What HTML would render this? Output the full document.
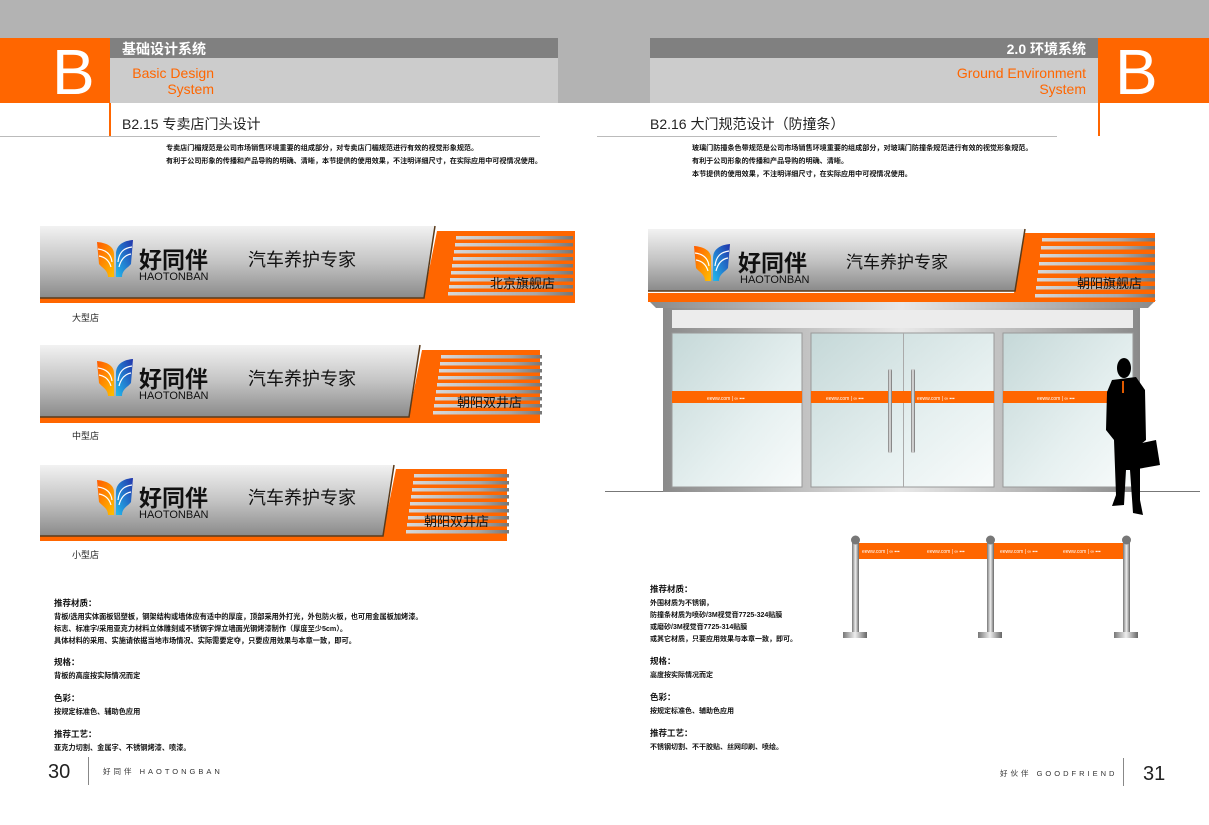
<!DOCTYPE html>
<html><head><meta charset="utf-8"><style>
html,body{margin:0;padding:0;background:#fff;}
body{width:1209px;height:825px;position:relative;overflow:hidden;font-family:"Liberation Sans","Noto Sans CJK SC",sans-serif;}
svg{position:absolute;left:0;top:0;}
.t{font-family:"Liberation Sans","Noto Sans CJK SC",sans-serif;}
</style></head><body>
<svg width="1209" height="825" viewBox="0 0 1209 825" xmlns="http://www.w3.org/2000/svg">
<defs>
<linearGradient id="gp" x1="0" y1="0" x2="0" y2="1"><stop offset="0" stop-color="#f2f2f2"/><stop offset="0.5" stop-color="#c4c4c4"/><stop offset="1" stop-color="#8a8a8a"/></linearGradient>
<linearGradient id="gs" x1="0" y1="0" x2="1" y2="0"><stop offset="0" stop-color="#d8d8d8"/><stop offset="0.7" stop-color="#a8a8a8"/><stop offset="1" stop-color="#777"/></linearGradient>
<linearGradient id="gl" x1="0" y1="0" x2="1" y2="1"><stop offset="0" stop-color="#c5d8d8"/><stop offset="0.6" stop-color="#e6f0f0"/><stop offset="1" stop-color="#f8fbfb"/></linearGradient>
<linearGradient id="gf" x1="0" y1="0" x2="1" y2="0"><stop offset="0" stop-color="#8a8a8a"/><stop offset="0.5" stop-color="#e8e8e8"/><stop offset="1" stop-color="#8a8a8a"/></linearGradient>
<linearGradient id="gpost" x1="0" y1="0" x2="1" y2="0"><stop offset="0" stop-color="#777"/><stop offset="0.5" stop-color="#eee"/><stop offset="1" stop-color="#666"/></linearGradient>
<linearGradient id="lgo" x1="0" y1="0" x2="1" y2="1"><stop offset="0" stop-color="#ff5a00"/><stop offset="1" stop-color="#ffc000"/></linearGradient>
<linearGradient id="lgb" x1="1" y1="0" x2="0" y2="1"><stop offset="0" stop-color="#2233aa"/><stop offset="1" stop-color="#22bbee"/></linearGradient>
<g id="logo">
<path d="M0,2 C12,3 17,8 17,14 L17,37 L11,37 C11,30 5,28 2,24 Z" fill="url(#lgo)"/>
<path d="M36,0 C24,1 19,7 19,14 L19,37 L25,37 C25,30 31,28 34,24 Z" fill="url(#lgb)"/>
<path d="M1,9 C9,10 14,14 15,22" stroke="#fff" stroke-width="1.2" fill="none"/>
<path d="M2,16 C8,17 12,20 14,27" stroke="#fff" stroke-width="1.2" fill="none"/>
<path d="M35,7 C27,8 22,12 21,22" stroke="#fff" stroke-width="1.2" fill="none"/>
<path d="M34,14 C28,15 24,19 22,27" stroke="#fff" stroke-width="1.2" fill="none"/>
</g>
</defs>

<rect x="0" y="0" width="1209" height="38" fill="#b3b3b3"/>
<rect x="558" y="0" width="92" height="103" fill="#b3b3b3"/>
<rect x="0" y="38" width="110" height="65" fill="#ff6600"/>
<rect x="110" y="38" width="448" height="20" fill="#808080"/>
<rect x="110" y="58" width="448" height="45" fill="#cccccc"/>
<rect x="109" y="103" width="2" height="33" fill="#ff6600"/>
<text x="52" y="94" font-size="64" fill="#fff" class="t">B</text>
<text x="122" y="54" font-size="14" font-weight="bold" fill="#fff" class="t">基础设计系统</text>
<text x="214" y="78" font-size="14" fill="#ff6600" text-anchor="end" class="t">Basic Design</text>
<text x="214" y="94" font-size="14" fill="#ff6600" text-anchor="end" class="t">System</text>
<text x="122" y="129" font-size="14" fill="#222" class="t">B2.15 专卖店门头设计</text>
<rect x="0" y="136" width="540" height="1" fill="#bbb"/>
<text x="166" y="150" font-size="7.1" font-weight="bold" fill="#111" class="t">专卖店门楣规范是公司市场销售环境重要的组成部分，对专卖店门楣规范进行有效的视觉形象规范。</text>
<text x="166" y="163" font-size="7.1" font-weight="bold" fill="#111" class="t">有利于公司形象的传播和产品导购的明确、清晰，本节提供的使用效果，不注明详细尺寸，在实际应用中可视情况使用。</text>

<rect x="650" y="38" width="448" height="20" fill="#808080"/>
<rect x="650" y="58" width="448" height="45" fill="#cccccc"/>
<rect x="1098" y="38" width="111" height="65" fill="#ff6600"/>
<rect x="1098" y="103" width="2" height="33" fill="#ff6600"/>
<text x="1115" y="94" font-size="64" fill="#fff" class="t">B</text>
<text x="1086" y="54" font-size="14" font-weight="bold" fill="#fff" text-anchor="end" class="t">2.0 环境系统</text>
<text x="1086" y="78" font-size="14" fill="#ff6600" text-anchor="end" class="t">Ground Environment</text>
<text x="1086" y="94" font-size="14" fill="#ff6600" text-anchor="end" class="t">System</text>
<text x="650" y="129" font-size="14" fill="#222" class="t">B2.16 大门规范设计（防撞条）</text>
<rect x="597" y="136" width="460" height="1" fill="#bbb"/>
<text x="692" y="150" font-size="7.1" font-weight="bold" fill="#111" class="t">玻璃门防撞条色带规范是公司市场销售环境重要的组成部分，对玻璃门防撞条规范进行有效的视觉形象规范。</text>
<text x="692" y="163" font-size="7.1" font-weight="bold" fill="#111" class="t">有利于公司形象的传播和产品导购的明确、清晰。</text>
<text x="692" y="176" font-size="7.1" font-weight="bold" fill="#111" class="t">本节提供的使用效果，不注明详细尺寸，在实际应用中可视情况使用。</text>

<!-- large sign -->
<polygon points="437,231 575,231 575,303 40,303 40,290 425,290" fill="#ff6600"/>
<polygon points="40,226 435,226 424,298 40,298" fill="url(#gp)"/>
<polyline points="435,226 424,298 40,298" fill="none" stroke="#5a3a1a" stroke-width="1.5"/>
<g fill="url(#gs)">
<rect x="456" y="236" width="117" height="3.5"/><rect x="455" y="243" width="118" height="3.5"/><rect x="454" y="250" width="119" height="3.5"/><rect x="453" y="257" width="120" height="3.5"/><rect x="452" y="264" width="121" height="3.5"/><rect x="451" y="271" width="122" height="3.5"/><rect x="450" y="278" width="123" height="3.5"/><rect x="449" y="285" width="124" height="3.5"/><rect x="448" y="292" width="125" height="3.5"/>
</g>
<use href="#logo" x="97" y="240"/>
<text x="139" y="268" font-size="23" font-weight="bold" fill="#111" class="t">好同伴</text>
<text x="139" y="280" font-size="11" fill="#111" class="t">HAOTONBAN</text>
<text x="248" y="266" font-size="18" fill="#111" class="t">汽车养护专家</text>
<text x="490" y="288" font-size="13" fill="#111" class="t">北京旗舰店</text>
<text x="72" y="321" font-size="9" fill="#222" class="t">大型店</text>

<!-- medium sign -->
<polygon points="422,350 540,350 540,423 40,423 40,410 410,410" fill="#ff6600"/>
<polygon points="40,345 420,345 409,417 40,417" fill="url(#gp)"/>
<polyline points="420,345 409,417 40,417" fill="none" stroke="#5a3a1a" stroke-width="1.5"/>
<g fill="url(#gs)">
<rect x="441" y="355" width="101" height="3.5"/><rect x="440" y="362" width="102" height="3.5"/><rect x="439" y="369" width="103" height="3.5"/><rect x="438" y="376" width="104" height="3.5"/><rect x="437" y="383" width="105" height="3.5"/><rect x="436" y="390" width="106" height="3.5"/><rect x="435" y="397" width="107" height="3.5"/><rect x="434" y="404" width="108" height="3.5"/><rect x="433" y="411" width="109" height="3.5"/>
</g>
<use href="#logo" x="97" y="359"/>
<text x="139" y="387" font-size="23" font-weight="bold" fill="#111" class="t">好同伴</text>
<text x="139" y="399" font-size="11" fill="#111" class="t">HAOTONBAN</text>
<text x="248" y="385" font-size="18" fill="#111" class="t">汽车养护专家</text>
<text x="457" y="407" font-size="13" fill="#111" class="t">朝阳双井店</text>
<text x="72" y="439" font-size="9" fill="#222" class="t">中型店</text>

<!-- small sign -->
<polygon points="396,469 507,469 507,541 40,541 40,528 384,528" fill="#ff6600"/>
<polygon points="40,465 394,465 383,536 40,536" fill="url(#gp)"/>
<polyline points="394,465 383,536 40,536" fill="none" stroke="#5a3a1a" stroke-width="1.5"/>
<g fill="url(#gs)">
<rect x="414" y="474" width="95" height="3.5"/><rect x="413" y="481" width="96" height="3.5"/><rect x="412" y="488" width="97" height="3.5"/><rect x="411" y="495" width="98" height="3.5"/><rect x="410" y="502" width="99" height="3.5"/><rect x="409" y="509" width="100" height="3.5"/><rect x="408" y="516" width="101" height="3.5"/><rect x="407" y="523" width="102" height="3.5"/><rect x="406" y="530" width="103" height="3.5"/>
</g>
<use href="#logo" x="97" y="478"/>
<text x="139" y="506" font-size="23" font-weight="bold" fill="#111" class="t">好同伴</text>
<text x="139" y="518" font-size="11" fill="#111" class="t">HAOTONBAN</text>
<text x="248" y="504" font-size="18" fill="#111" class="t">汽车养护专家</text>
<text x="424" y="526" font-size="13" fill="#111" class="t">朝阳双井店</text>
<text x="72" y="558" font-size="9" fill="#222" class="t">小型店</text>

<!-- storefront -->
<rect x="605" y="491" width="595" height="1" fill="#777"/>
<polygon points="648,300 1156,300 1148,308 656,308" fill="url(#gf)"/>
<rect x="663" y="308" width="477" height="184" fill="url(#gf)"/>
<rect x="672" y="310" width="461" height="18" fill="#ececec"/>
<rect x="672" y="333" width="130" height="154" fill="url(#gl)" stroke="#999"/>
<rect x="811" y="333" width="183" height="154" fill="url(#gl)" stroke="#999"/>
<rect x="903" y="333" width="1" height="154" fill="#aaa"/>
<rect x="1003" y="333" width="130" height="154" fill="url(#gl)" stroke="#999"/>
<g fill="#ff6600"><rect x="672" y="391" width="130" height="12"/><rect x="811" y="391" width="183" height="12"/><rect x="1003" y="391" width="130" height="12"/></g>
<g fill="#fff" font-size="5" class="t"><text x="707" y="400">eeww.com | ∞ ▪▪▪</text><text x="826" y="400">eeww.com | ∞ ▪▪▪</text><text x="917" y="400">eeww.com | ∞ ▪▪▪</text><text x="1037" y="400">eeww.com | ∞ ▪▪▪</text></g>
<rect x="888" y="369" width="4" height="84" rx="2" fill="url(#gpost)"/>
<rect x="911" y="369" width="4" height="84" rx="2" fill="url(#gpost)"/>
<polygon points="1025,233 1155,233 1155,302 648,302 648,293 1014,293" fill="#ff6600"/>
<polygon points="648,229 1025,229 1015,291 648,291" fill="url(#gp)"/>
<polyline points="1025,229 1015,291 648,291" fill="none" stroke="#5a3a1a" stroke-width="1.5"/>
<g fill="url(#gs)">
<rect x="1042" y="238" width="113" height="3.5"/><rect x="1041" y="246" width="114" height="3.5"/><rect x="1040" y="254" width="115" height="3.5"/><rect x="1039" y="262" width="116" height="3.5"/><rect x="1038" y="270" width="117" height="3.5"/><rect x="1037" y="278" width="118" height="3.5"/><rect x="1036" y="286" width="119" height="3.5"/><rect x="1035" y="294" width="120" height="3.5"/>
</g>
<use href="#logo" x="694" y="244"/>
<text x="738" y="271" font-size="23" font-weight="bold" fill="#111" class="t">好同伴</text>
<text x="740" y="283" font-size="11" fill="#111" class="t">HAOTONBAN</text>
<text x="846" y="268" font-size="17" fill="#111" class="t">汽车养护专家</text>
<text x="1077" y="288" font-size="13" fill="#111" class="t">朝阳旗舰店</text>
<g fill="#000">
<ellipse cx="1124" cy="368" rx="7" ry="10"/>
<path d="M1112,380 L1136,377 L1145,390 L1146,440 L1140,445 L1140,500 L1143,515 L1133,513 L1130,470 L1126,470 L1124,505 L1112,506 L1116,495 L1114,440 L1106,430 L1107,392 Z"/>
<path d="M1128,446 L1156,440 L1160,465 L1132,470 Z"/>
</g>
<rect x="1122" y="381" width="2" height="12" fill="#e05a00"/>

<!-- stanchions -->
<rect x="856" y="543" width="136" height="16" fill="#ff6600"/>
<rect x="994" y="543" width="132" height="16" fill="#ff6600"/>
<g fill="#fff" font-size="5" class="t"><text x="862" y="553">eeww.com | ∞ ▪▪▪</text><text x="927" y="553">eeww.com | ∞ ▪▪▪</text><text x="1000" y="553">eeww.com | ∞ ▪▪▪</text><text x="1063" y="553">eeww.com | ∞ ▪▪▪</text></g>
<g>
<rect x="852" y="542" width="7" height="93" fill="url(#gpost)"/><circle cx="855.5" cy="540" r="4.5" fill="#777"/><rect x="843" y="632" width="24" height="6" fill="url(#gpost)"/>
<rect x="987" y="542" width="7" height="93" fill="url(#gpost)"/><circle cx="990.5" cy="540" r="4.5" fill="#777"/><rect x="978" y="632" width="24" height="6" fill="url(#gpost)"/>
<rect x="1123" y="542" width="7" height="93" fill="url(#gpost)"/><circle cx="1126.5" cy="540" r="4.5" fill="#777"/><rect x="1114" y="632" width="24" height="6" fill="url(#gpost)"/>
</g>

<g class="t" fill="#111">
<text x="54" y="606" font-size="8.5" font-weight="bold">推荐材质：</text>
<text x="54" y="619" font-size="7.2" font-weight="bold">背板/选用实体面板铝塑板，钢架结构或墙体应有适中的厚度，顶部采用外打光，外包防火板，也可用金属板加烤漆。</text>
<text x="54" y="631" font-size="7.2" font-weight="bold">标志、标准字/采用亚克力材料立体雕刻或不锈钢字焊立墙面光钢烤漆制作（厚度至少5cm）。</text>
<text x="54" y="643" font-size="7.2" font-weight="bold">具体材料的采用、实施请依据当地市场情况、实际需要定夺，只要应用效果与本章一致，即可。</text>
<text x="54" y="665" font-size="8.5" font-weight="bold">规格：</text>
<text x="54" y="678" font-size="7.2" font-weight="bold">背板的高度按实际情况而定</text>
<text x="54" y="701" font-size="8.5" font-weight="bold">色彩：</text>
<text x="54" y="714" font-size="7.2" font-weight="bold">按规定标准色、辅助色应用</text>
<text x="54" y="737" font-size="8.5" font-weight="bold">推荐工艺：</text>
<text x="54" y="750" font-size="7.2" font-weight="bold">亚克力切割、金属字、不锈钢烤漆、喷漆。</text>
</g>
<g class="t" fill="#111">
<text x="650" y="592" font-size="8.5" font-weight="bold">推荐材质：</text>
<text x="650" y="605" font-size="7" font-weight="bold">外围材质为不锈钢，</text>
<text x="650" y="617" font-size="7" font-weight="bold">防撞条材质为喷砂/3M视觉膏7725-324贴膜</text>
<text x="650" y="629" font-size="7" font-weight="bold">或磨砂/3M视觉膏7725-314贴膜</text>
<text x="650" y="641" font-size="7" font-weight="bold">或其它材质，只要应用效果与本章一致，即可。</text>
<text x="650" y="664" font-size="8.5" font-weight="bold">规格：</text>
<text x="650" y="677" font-size="7" font-weight="bold">高度按实际情况而定</text>
<text x="650" y="700" font-size="8.5" font-weight="bold">色彩：</text>
<text x="650" y="713" font-size="7" font-weight="bold">按规定标准色、辅助色应用</text>
<text x="650" y="736" font-size="8.5" font-weight="bold">推荐工艺：</text>
<text x="650" y="749" font-size="7" font-weight="bold">不锈钢切割、不干胶贴、丝网印刷、喷绘。</text>
</g>
<text x="48" y="778" font-size="20" fill="#222" class="t">30</text>
<rect x="88" y="757" width="1" height="28" fill="#888"/>
<text x="103" y="774" font-size="7.5" fill="#333" letter-spacing="3" class="t">好同伴  HAOTONGBAN</text>
<text x="1000" y="776" font-size="7.5" fill="#333" letter-spacing="3" class="t">好伙伴  GOODFRIEND</text>
<rect x="1123" y="758" width="1" height="28" fill="#888"/>
<text x="1143" y="780" font-size="20" fill="#222" class="t">31</text>
</svg>
</body></html>
